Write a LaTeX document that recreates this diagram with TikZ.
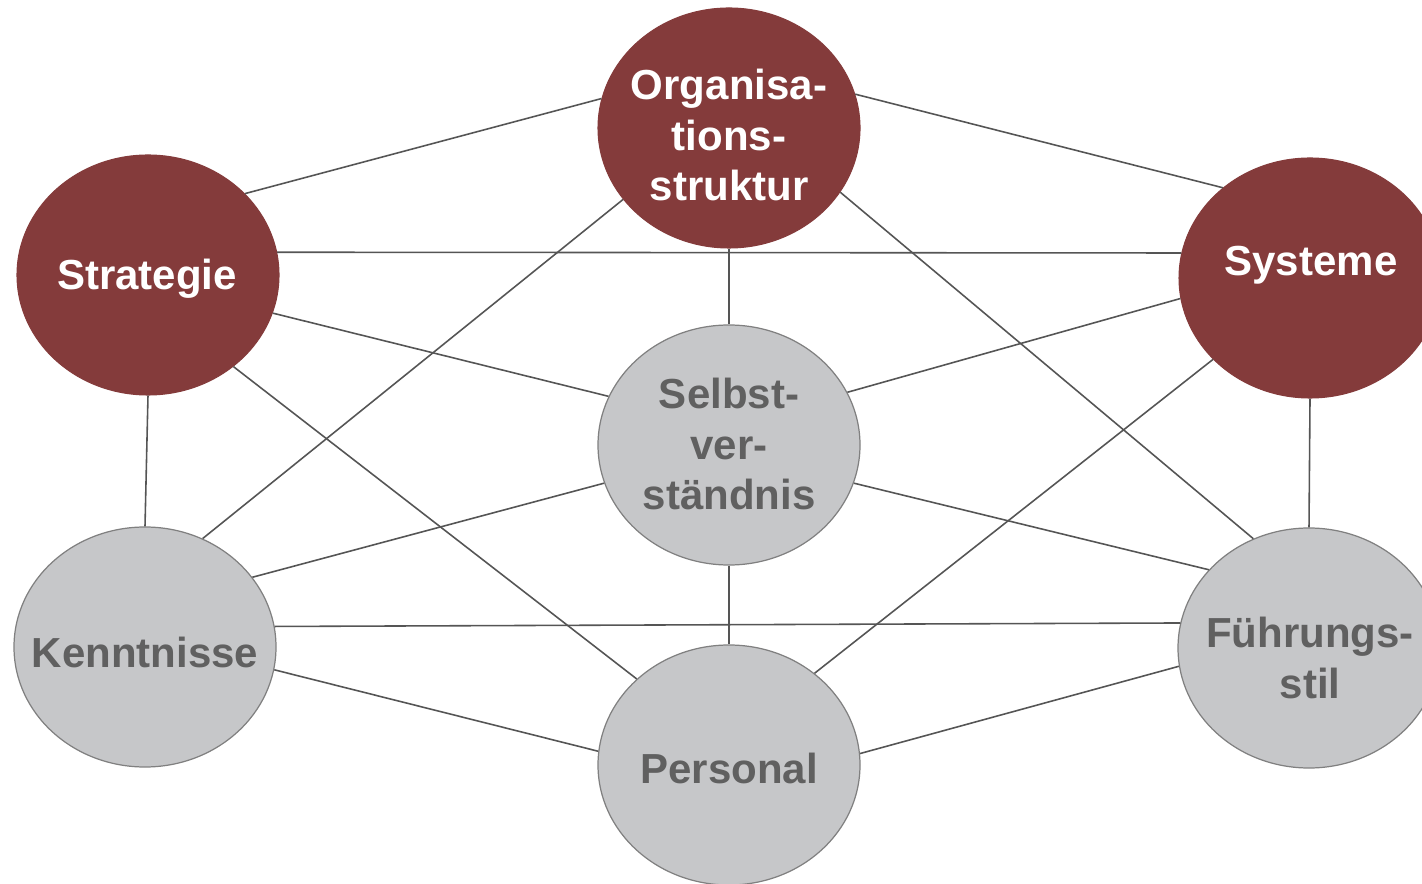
\documentclass[tikz,border=0pt]{standalone}
\usepackage{fontspec}
\setmainfont{Liberation Sans}
\usetikzlibrary{shapes.geometric,calc}
\definecolor{dred}{HTML}{843B3B}
\definecolor{lgray}{HTML}{C6C7C9}
\definecolor{bgray}{HTML}{808080}
\definecolor{tgray}{HTML}{606060}
\definecolor{lcol}{HTML}{555555}
\tikzset{
  ell/.style={ellipse, minimum width=5.24cm, minimum height=4.8cm, inner sep=0pt},
  redell/.style={ell, fill=dred, draw=dred, line width=0.6pt},
  grayell/.style={ell, fill=lgray, draw=bgray, line width=0.7pt},
  lbl/.style={align=center, font=\bfseries\fontsize{23.9}{29}\selectfont, inner sep=0pt},
  redtxt/.style={lbl, text=white},
  graytxt/.style={lbl, text=tgray},
  conn/.style={draw=lcol, line width=0.9pt}
}
\begin{document}
\begin{tikzpicture}
\useasboundingbox[fill=white] (0,0) rectangle (28.44,-17.68);
% ellipses
\node[redell]  (org) at (14.58,-2.56) {};
\node[redell]  (str) at (2.96,-5.50) {};
\node[redell]  (sys) at (26.20,-5.56) {};
\node[grayell] (sel) at (14.58,-8.90) {};
\node[grayell] (ken) at (2.90,-12.94) {};
\node[grayell] (per) at (14.58,-15.30) {};
\node[grayell] (fue) at (26.18,-12.96) {};
% connectors
\draw[conn] (org.167.7) -- (str.40.6);
\draw[conn] (org.15.5) -- (sys.134.7);
\draw[conn] (str.10.2) -- (sys.169.0);
\draw[conn] (org.270) -- (sel.90);
\draw[conn] (org.214.7) -- (ken.62.4);
\draw[conn] (org.330.5) -- (fue.117);
\draw[conn] (str.343.4) -- (sel.158.9);
\draw[conn] (sys.189.6) -- (sel.24.2);
\draw[conn] (str.313.4) -- (per.137.2);
\draw[conn] (sys.220) -- (per.47.3);
\draw[conn] (str.270) -- (ken.90);
\draw[conn] (sys.270) -- (fue.90);
\draw[conn] (sel.197.9) -- (ken.33);
\draw[conn] (sel.343.8) -- (fue.142.5);
\draw[conn] (sel.270) -- (per.90);
\draw[conn] (ken.9.5) -- (fue.169.9);
\draw[conn] (ken.350.9) -- (per.174.2);
\draw[conn] (fue.188.8) -- (per.5.7);
% labels
\node[redtxt]  (orgt) at ($(org)+(0,-0.14)$) {Organisa-\\tions-\\struktur};
\node[redtxt]  (strt) at ($(str)+(-0.02,-0.08)$) {Strategie};
\node[redtxt]  (syst) at ($(sys)+(0.02,0.26)$) {Systeme};
\node[graytxt] (selt) at ($(sel)+(0,0.02)$) {Selbst-\\ver-\\ständnis};
\node[graytxt] (kent) at ($(ken)+(0,-0.1)$) {Kenntnisse};
\node[graytxt] (pert) at ($(per)+(0,-0.06)$) {Personal};
\node[graytxt] (fuet) at ($(fue)+(0.02,-0.2)$) {Führungs-\\stil};
\end{tikzpicture}
\end{document}
